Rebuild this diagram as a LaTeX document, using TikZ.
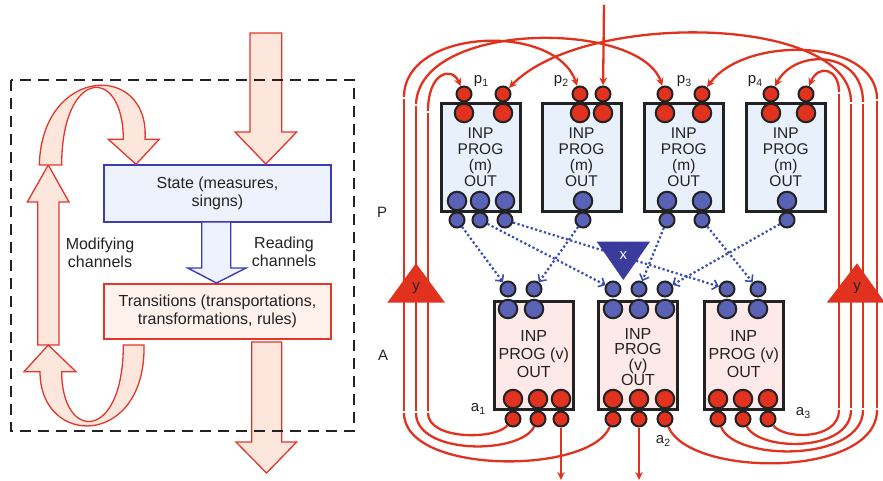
\documentclass[tikz,border=0pt]{standalone}
\usepackage{fontspec}
\setmainfont{Liberation Sans}
\usetikzlibrary{arrows.meta}

\definecolor{wirered}{HTML}{E0321E}
\definecolor{portred}{HTML}{E0321E}
\definecolor{portblue}{HTML}{5A62B6}
\definecolor{dotblue}{HTML}{3A4DB0}
\definecolor{xblue}{HTML}{3B3B9E}
\definecolor{pfill}{HTML}{E8F0FB}
\definecolor{afill}{HTML}{FDE9E8}
\definecolor{statefill}{HTML}{EEF2FC}
\definecolor{stateline}{HTML}{3C3CB4}
\definecolor{transfill}{HTML}{FFF1EC}
\definecolor{bandfill}{HTML}{FDE6DC}
\definecolor{bandline}{HTML}{E2372A}
\definecolor{ink}{HTML}{222222}

% index label such as p_1, a_2
\newcommand{\idx}[2]{#1\raisebox{-3.5pt}{\fontsize{10.5}{11}\selectfont #2}}

\begin{document}
\begin{tikzpicture}[x=1pt,y=-1pt,
  wire/.style={draw=wirered, line width=2.3pt},
  tipped/.style={-{Stealth[length=8pt,width=7.5pt]}},
  flow/.style={draw=dotblue, line width=2.2pt, dash pattern=on 2.2pt off 2.4pt,
    -{Straight Barb[length=5pt,width=10pt,line width=1.6pt]}},
  pbox/.style={draw=ink, line width=3pt, fill=pfill, minimum width=79pt,
    minimum height=108.5pt, inner sep=0pt},
  abox/.style={draw=ink, line width=3pt, fill=afill, minimum width=79pt,
    minimum height=108pt, inner sep=0pt},
  boxtext/.style={align=center, text=ink, inner sep=0pt},
  bigport/.style={circle, draw=ink, line width=2pt, minimum size=18.5pt, inner sep=0pt},
  smallport/.style={circle, draw=ink, line width=2pt, minimum size=15pt, inner sep=0pt},
  band/.style={draw=bandline, line width=1.3pt, fill=bandfill, line join=miter},
  plain/.style={text=ink, align=center, inner sep=0pt, font=\fontsize{16}{18.5}\selectfont},
  tag/.style={text=ink, inner sep=0pt, font=\fontsize{15}{16}\selectfont}
]
\useasboundingbox (0,0) rectangle (883,481);

% ---------------- left panel: state / transitions loop ----------------
\node[draw=stateline, line width=1.5pt, fill=statefill, minimum width=227pt,
  minimum height=57pt, inner sep=0pt, plain] (state) at (217.5,193.5)
  {State (measures,\\ singns)};
\node[draw=bandline, line width=1.5pt, fill=transfill, minimum width=227pt,
  minimum height=55pt, inner sep=0pt, plain] (trans) at (217.5,311.5)
  {Transitions (transportations,\\ transformations, rules)};

% reading channel (blue block arrow)
\filldraw[draw=stateline, line width=1.4pt, fill=statefill]
  (201.7,222) -- (230.7,222) -- (230.7,268) -- (246,268) -- (216.5,283)
  -- (187.7,268) -- (201.7,268) -- cycle;

% incoming and outgoing block arrows
\filldraw[band] (250,33) -- (281.7,33) -- (281.7,132) -- (296.7,132)
  -- (265.8,164) -- (235,132) -- (250,132) -- cycle;
\filldraw[band] (251.7,342) -- (281.7,342) -- (281.7,442) -- (296.7,442)
  -- (266.5,473) -- (236,442) -- (251.7,442) -- cycle;

% modifying channels: up arrow and the two curved bands
\filldraw[band] (37.7,345) -- (59,345) -- (59,202) -- (69,202) -- (48.3,165)
  -- (27.3,202) -- (37.7,202) -- cycle;
\filldraw[band] (39.3,165) .. controls (42,65) and (150,62) .. (145,139.3)
  -- (159.3,139.3) -- (136,164.3) -- (108.3,139.3) -- (123.3,139.3)
  .. controls (123.3,65) and (61.7,68) .. (61.7,165) -- cycle;
\filldraw[band] (144,345) .. controls (146,448) and (40,448) .. (40,371.7)
  -- (24,371.7) -- (48.3,345) -- (76,371.7) -- (61.7,371.7)
  .. controls (61.7,442) and (123.3,442) .. (123.3,345) -- cycle;

\node[plain] (modlbl) at (100,253) {Modifying\\channels};
\node[plain] (readlbl) at (284,252) {Reading\\channels};

\draw[draw=ink, line width=2.3pt, dash pattern=on 11pt off 7pt] (11,80) rectangle (354,431);

% ---------------- right panel: P and A units ----------------
\node[tag] (Plbl) at (382,212) {P};
\node[tag] (Albl) at (383,355) {A};

% bundle coordinates (left: x = 404, 416, 428; right: 839, 851, 863, 877)
\coordinate (L1t) at (404,97);  \coordinate (L1u) at (404,99.5);  \coordinate (L1d) at (404,410.5); \coordinate (L1b) at (404,413);
\coordinate (L2t) at (416,104); \coordinate (L2u) at (416,106.5); \coordinate (L2d) at (416,410.5); \coordinate (L2b) at (416,413);
\coordinate (L3t) at (428,111); \coordinate (L3u) at (428,113.5); \coordinate (L3d) at (428,410.5); \coordinate (L3b) at (428,413);
\coordinate (R1t) at (839,92);  \coordinate (R1u) at (839,94.5);  \coordinate (R1d) at (839,407.5); \coordinate (R1b) at (839,410);
\coordinate (R2t) at (851,102); \coordinate (R2u) at (851,104.5); \coordinate (R2d) at (851,407.5); \coordinate (R2b) at (851,410);
\coordinate (R3t) at (863,102); \coordinate (R3u) at (863,104.5); \coordinate (R3d) at (863,407.5); \coordinate (R3b) at (863,410);
\coordinate (R4t) at (877,99);  \coordinate (R4u) at (877,101.5); \coordinate (R4d) at (877,407.5); \coordinate (R4b) at (877,410);
\coordinate (feed) at (604,5);
\coordinate (out1) at (561,480);
\coordinate (out2) at (639,480);

% P units
\foreach \n/\x in {P1/480.5, P2/581.5, P3/683.8, P4/785.8} {
  \node[pbox] (\n) at (\x,157.5) {};
  \node[boxtext, font=\fontsize{15.5}{16}\selectfont] (\n txt) at (\x,157) {INP\\PROG\\(m)\\OUT};
}
% A units
\foreach \n/\x in {A1/533.8, A3/743.8} {
  \node[abox] (\n) at (\x,355) {};
  \node[boxtext, font=\fontsize{16}{18.3}\selectfont] (\n txt) at (\x,354) {INP\\PROG (v)\\OUT};
}
\node[abox] (A2) at (638,355) {};
\node[boxtext, font=\fontsize{16}{15.6}\selectfont] (A2txt) at (638,357) {INP\\PROG\\(v)\\OUT};

% P input ports (red) and output ports (blue)
\foreach \n/\x in {p1i1/464, p1i2/503, p2i1/580, p2i2/603, p3i1/665, p3i2/702, p4i1/771, p4i2/806} {
  \node[smallport, fill=portred] (s\n) at (\x,94) {};
  \node[bigport, fill=portred] (\n) at (\x,113) {};
}
\foreach \n/\x in {p1o1/457, p1o2/480, p1o3/505, p2o1/583, p3o1/667, p3o2/702, p4o1/787} {
  \node[smallport, fill=portblue] (s\n) at (\x,220) {};
  \node[bigport, fill=portblue] (\n) at (\x,201) {};
}
% A input ports (blue) and output ports (red)
\foreach \n/\x in {a1i1/508, a1i2/534, a2i1/613, a2i2/639, a2i3/665, a3i1/727, a3i2/758} {
  \node[smallport, fill=portblue] (s\n) at (\x,289) {};
  \node[bigport, fill=portblue] (\n) at (\x,309) {};
}
\foreach \n/\x in {a1o1/513, a1o2/538, a1o3/561, a2o1/613, a2o2/639, a2o3/665, a3o1/718, a3o2/743, a3o3/768} {
  \node[smallport, fill=portred] (s\n) at (\x,419) {};
  \node[bigport, fill=portred] (\n) at (\x,399) {};
}

% unit labels
\node[tag] (lp1) at (481,81) {\idx{p}{1}};
\node[tag] (lp2) at (561,81) {\idx{p}{2}};
\node[tag] (lp3) at (684,81) {\idx{p}{3}};
\node[tag] (lp4) at (755,81) {\idx{p}{4}};
\node[tag] (la1) at (478,409) {\idx{a}{1}};
\node[tag] (la2) at (663,441) {\idx{a}{2}};
\node[tag] (la3) at (803,413) {\idx{a}{3}};

% reading connections P -> A (dotted)
\draw[flow] (sp1o1) -- (sa1i1);
\draw[flow] (sp1o2) -- (sa2i1);
\draw[flow] (sp1o3) -- (sa3i1);
\draw[flow] (sp2o1) -- (sa1i2);
\draw[flow] (sp3o1) -- (sa2i2);
\draw[flow] (sp3o2) -- (sa3i2);
\draw[flow] (sp4o1) -- (sa2i3);

% the x operator
\fill[fill=xblue] (596.7,241.7) -- (650,241.7) -- (623.3,280) -- cycle;
\node[tag, text=white] (xlbl) at (623.3,256) {x};

% modifying connections A -> P: from outputs down into the bundles
\draw[wire] (sa1o1) .. controls (495,440) and (428,440) .. (L3b);
\draw[wire] (sa1o2) .. controls (520,455) and (416,455) .. (L2b);
\draw[wire] (sa2o1) .. controls (590,475) and (404,475) .. (L1b);
\draw[wire] (sa3o3) .. controls (785,440) and (839,440) .. (R1b);
\draw[wire] (sa3o2) .. controls (760,452) and (851,452) .. (R2b);
\draw[wire] (sa3o1) .. controls (735,462) and (863,462) .. (R3b);
\draw[wire] (sa2o3) .. controls (690,478) and (877,478) .. (R4b);

% vertical bundles
\foreach \b in {L1,L2,L3,R1,R2,R3,R4} { \draw[wire] (\b d) -- (\b u); }

% from the bundles over the top into the P inputs
\draw[wire, tipped] (L3t) .. controls (428,72) and (452,66) .. (sp1i1);
\draw[wire, tipped] (L1t) .. controls (404,28) and (555,22) .. (sp2i1);
\draw[wire, tipped] (L2t) .. controls (420,20) and (640,20) .. (sp3i1);
\draw[wire, tipped] (R1t) .. controls (839,68) and (818,64) .. (sp4i2);
\draw[wire, tipped] (R3t) .. controls (863,50) and (795,48) .. (sp4i1);
\draw[wire, tipped] (R4t) .. controls (877,38) and (745,35) .. (sp3i2);
\draw[wire, tipped] (R2t) .. controls (851,15) and (585,10) .. (sp1i2);
\draw[wire, tipped] (feed) -- (sp2i2);

% outputs leaving the system
\draw[wire, tipped] (sa1o3) -- (out1);
\draw[wire, tipped] (sa2o2) -- (out2);

% the y operators over the bundles
\fill[fill=wirered] (387.3,302.7) -- (416,263.3) -- (445,302.7) -- cycle;
\node[tag] (ylblL) at (416,288) {y};
\fill[fill=wirered] (826.7,302.7) -- (857,263.3) -- (885,302.7) -- cycle;
\node[tag] (ylblR) at (857,288) {y};
\end{tikzpicture}
\end{document}
